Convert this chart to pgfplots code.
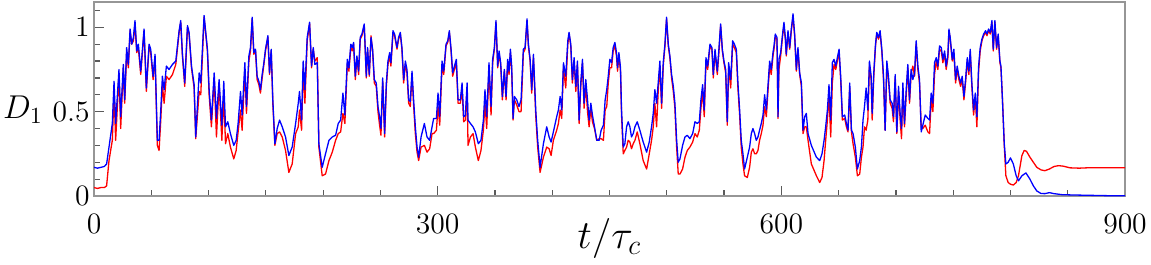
\RequirePackage{fix-cm}
\documentclass[border=0pt]{standalone}
\usepackage{pgfplots}
\pgfplotsset{compat=1.18}
\usepackage{pgfplotstable}
\definecolor{framegray}{RGB}{150,150,150}
\definecolor{tickgray}{RGB}{90,90,90}

\pgfplotstableread{
t D
0 0.17
3 0.165
6 0.17
9 0.175
11 0.19
13.1 0.29
16.0 0.43
17.5 0.68
18.9 0.43
21.8 0.75
23.3 0.47
25.6 0.78
26.8 0.57
28.5 0.88
30.0 0.78
31.5 0.99
32.9 0.90
34.4 0.94
35.8 1.04
37.3 0.86
38.7 0.90
40.8 0.74
43.7 0.99
45.7 0.64
48.1 0.90
49.5 0.87
51.6 0.71
53.3 0.84
55.3 0.33
56.8 0.33
58.3 0.51
59.7 0.71
61.2 0.63
63.2 0.77
65.5 0.75
68.5 0.78
71.4 0.80
74.3 0.98
75.7 1.04
77.2 0.84
79.2 0.67
81.6 1.01
83.0 0.97
85.1 0.77
87.4 0.66
88.8 0.35
91.8 0.73
93.2 0.67
96.1 1.07
99.0 0.87
100.5 0.63
102.5 0.45
104.9 0.73
106.9 0.46
109.2 0.69
111.6 0.42
113.3 0.68
114.8 0.41
116.8 0.44
119.1 0.37
122.0 0.30
124.1 0.33
125.8 0.43
127.9 0.62
129.3 0.48
131.7 0.79
133.1 0.53
135.2 0.83
136.6 0.88
138.1 1.06
139.5 0.85
141.0 0.87
142.4 0.71
143.9 0.68
145.3 0.63
146.8 0.72
148.3 0.79
149.7 0.87
151.8 0.95
153.2 0.73
154.7 0.87
156.1 0.57
157.9 0.31
159.9 0.40
162.0 0.45
164.3 0.41
167.2 0.35
170.1 0.24
173.0 0.29
176.0 0.43
178.3 0.55
179.4 0.62
181.2 0.45
182.6 0.80
184.1 0.63
186.1 0.94
188.2 1.03
189.9 0.77
191.4 0.88
192.8 0.78
194.9 0.79
196.3 0.31
199.2 0.17
202.1 0.25
205.1 0.33
208.0 0.35
210.9 0.36
213.2 0.43
215.3 0.45
217.3 0.61
219.0 0.48
221.1 0.81
222.5 0.76
224.2 0.90
225.5 0.88
226.6 0.91
228.1 0.71
229.5 0.83
231.0 0.74
232.4 0.94
233.9 0.96
235.9 1.02
237.7 0.71
238.8 0.88
240.3 0.72
241.8 0.94
243.2 0.87
244.7 0.69
246.4 0.67
247.9 0.53
249.3 0.47
250.5 0.40
252.0 0.70
253.7 0.37
255.2 0.67
256.6 0.80
258.1 0.85
259.2 0.79
261.0 0.98
262.4 0.96
264.5 0.88
265.9 0.94
267.4 0.97
268.8 0.88
270.3 0.69
271.8 0.80
273.2 0.75
274.7 0.57
276.1 0.56
277.6 0.74
279.0 0.57
280.5 0.41
282.0 0.29
283.4 0.23
285.5 0.35
288.4 0.43
290.7 0.35
293.0 0.33
295.1 0.41
296.5 0.46
298.9 0.46
300.3 0.61
301.8 0.47
303.8 0.80
305.3 0.74
307.3 0.90
308.8 0.92
310.2 0.98
311.7 0.87
313.1 0.73
314.6 0.77
316.3 0.81
317.8 0.57
319.8 0.57
321.3 0.67
322.7 0.47
324.2 0.48
325.7 0.67
326.5 0.45
328.6 0.43
330.9 0.41
332.9 0.38
335.5 0.31
337.8 0.33
339.9 0.45
341.3 0.63
342.8 0.47
344.8 0.79
346.6 0.53
348.0 0.81
349.5 0.88
350.9 1.04
352.4 0.77
353.6 0.86
355.0 0.79
356.5 0.59
358.2 0.75
359.7 0.59
361.1 0.81
362.3 0.74
363.5 0.87
364.6 0.77
365.8 0.46
367.0 0.59
369.0 0.57
371.0 0.53
372.8 0.57
374.8 0.87
376.3 0.88
378.0 1.05
379.2 0.90
380.7 0.81
382.1 0.63
383.6 0.84
385.6 0.51
387.3 0.33
389.4 0.17
392.3 0.31
395.2 0.41
397.3 0.35
399.0 0.32
401.0 0.38
403.9 0.47
405.4 0.51
406.9 0.59
408.3 0.51
409.8 0.79
411.8 0.71
413.6 0.92
414.7 0.97
416.2 0.90
417.6 0.69
419.1 0.82
420.6 0.65
422.0 0.80
423.5 0.45
424.9 0.67
426.4 0.81
427.8 0.55
429.3 0.69
430.8 0.57
432.2 0.45
433.7 0.55
435.1 0.48
436.9 0.41
438.9 0.33
441.0 0.33
442.7 0.39
444.7 0.42
446.2 0.57
447.6 0.63
448.9 0.71
450.3 0.81
451.8 0.79
453.2 0.88
454.7 0.91
456.1 0.85
457.0 0.76
458.2 0.85
459.6 0.76
460.5 0.51
462.0 0.29
463.4 0.31
464.9 0.41
466.3 0.44
467.8 0.41
469.2 0.35
470.7 0.37
472.2 0.41
474.2 0.44
476.5 0.39
479.4 0.32
482.4 0.26
484.7 0.32
486.7 0.41
488.2 0.49
489.6 0.63
491.1 0.55
492.5 0.67
494.0 0.80
495.5 0.55
496.9 0.79
498.4 0.90
499.8 1.06
501.3 0.90
502.7 0.83
504.2 0.72
505.7 0.65
507.1 0.55
508.6 0.33
510.0 0.20
511.5 0.22
513.8 0.30
515.9 0.35
517.9 0.36
520.2 0.34
522.6 0.37
524.6 0.44
526.6 0.43
528.4 0.44
529.8 0.57
531.3 0.66
532.7 0.51
534.2 0.82
535.7 0.77
537.7 0.90
539.4 0.88
540.6 0.72
542.1 0.87
544.1 0.74
545.6 0.88
547.0 1.02
548.5 0.87
549.9 0.80
551.4 0.75
552.8 0.44
554.0 0.79
555.8 0.69
557.5 0.92
559.0 0.90
560.7 0.87
562.1 0.67
563.6 0.51
565.0 0.33
566.5 0.25
567.9 0.16
570.3 0.23
572.3 0.29
573.8 0.37
575.2 0.40
576.7 0.37
578.1 0.33
579.6 0.35
581.0 0.39
582.5 0.43
584.0 0.48
585.4 0.60
586.9 0.51
588.3 0.65
589.8 0.80
591.2 0.75
592.7 0.85
593.6 0.89
594.7 0.96
596.2 0.94
597.1 0.47
597.9 0.81
599.4 0.85
601.4 0.98
602.3 1.03
603.5 0.94
604.3 0.84
605.8 0.98
607.3 0.88
608.7 0.99
610.2 1.08
611.6 0.96
613.1 0.75
614.5 0.88
616.0 0.73
617.5 0.67
618.9 0.39
620.4 0.47
621.8 0.49
623.3 0.37
626.2 0.30
630.6 0.23
633.5 0.21
635.5 0.25
637.3 0.33
638.7 0.41
640.2 0.51
641.6 0.66
643.1 0.45
644.5 0.79
646.0 0.81
647.5 0.77
648.9 0.82
650.4 0.87
651.8 0.71
653.3 0.47
655.3 0.48
656.8 0.43
658.2 0.39
659.7 0.67
661.2 0.39
662.6 0.37
664.6 0.29
666.4 0.16
668.4 0.21
669.9 0.29
671.3 0.45
672.6 0.53
674.0 0.64
675.5 0.51
676.9 0.80
678.4 0.71
679.3 0.49
680.7 0.73
682.2 0.90
683.3 0.97
684.8 0.94
686.2 0.98
687.7 0.87
689.2 0.71
690.6 0.39
692.1 0.80
693.5 0.71
695.0 0.57
696.7 0.55
697.9 0.47
699.4 0.72
700.8 0.38
702.3 0.65
703.7 0.49
704.9 0.40
706.1 0.67
707.5 0.43
709.0 0.63
710.4 0.78
711.9 0.57
713.3 0.75
714.8 0.69
716.3 0.73
717.7 0.92
719.2 0.77
720.6 0.69
722.1 0.38
723.5 0.42
725.6 0.48
727.9 0.46
729.4 0.45
730.8 0.61
732.3 0.55
733.7 0.79
735.2 0.82
736.6 0.77
738.1 0.89
739.6 0.88
741.0 0.81
742.5 0.86
743.9 0.77
745.4 0.84
746.3 0.99
747.4 0.94
749.2 0.81
750.6 0.87
752.1 0.69
753.5 0.77
755.0 0.71
756.5 0.67
757.9 0.71
759.4 0.59
760.8 0.69
762.3 0.82
763.7 0.74
764.9 0.87
766.3 0.67
767.8 0.51
769.3 0.61
770.7 0.47
772.2 0.77
773.6 0.88
775.1 0.93
776.6 0.96
778.3 0.98
779.5 0.96
780.9 0.99
782.4 0.97
783.8 1.04
785.0 0.87
786.4 1.04
787.9 0.88
789.3 0.96
790.8 0.80
791.7 0.77
793.0 0.57
794.6 0.31
796.0 0.19
798.0 0.20
800.0 0.226
802.5 0.19
805.0 0.12
807.0 0.09
810.0 0.12
813.5 0.137
817.0 0.10
820.0 0.06
823.0 0.03
826.6 0.015
830.0 0.014
834.0 0.02
838.0 0.014
845.0 0.008
855.0 0.006
870.0 0.004
885.0 0.002
900.0 0.001
}\blueseries

\pgfplotstableread{
t D
0 0.05
3 0.045
6 0.05
9 0.05
11 0.06
13.1 0.21
16.0 0.33
17.5 0.62
18.9 0.33
21.8 0.72
23.3 0.40
25.6 0.76
26.8 0.55
28.5 0.85
30.0 0.76
31.5 0.98
32.9 0.90
34.4 0.92
35.8 1.02
37.3 0.85
38.7 0.88
40.8 0.72
43.7 0.98
45.7 0.62
48.1 0.89
49.5 0.85
51.6 0.69
53.3 0.82
55.3 0.30
56.8 0.27
58.3 0.45
59.7 0.66
61.2 0.55
63.2 0.71
65.5 0.69
68.5 0.72
71.4 0.78
74.3 0.97
75.7 1.03
77.2 0.83
79.2 0.65
81.6 1.00
83.0 0.96
85.1 0.76
87.4 0.64
88.8 0.34
91.8 0.62
93.2 0.60
96.1 1.06
99.0 0.86
100.5 0.60
102.5 0.41
104.9 0.70
106.9 0.35
109.2 0.66
111.6 0.33
113.3 0.60
114.8 0.31
116.8 0.37
119.1 0.29
122.0 0.22
124.1 0.27
125.8 0.38
127.9 0.51
129.3 0.39
131.7 0.75
133.1 0.49
135.2 0.80
136.6 0.86
138.1 1.05
139.5 0.84
141.0 0.86
142.4 0.69
143.9 0.66
145.3 0.61
146.8 0.70
148.3 0.78
149.7 0.86
151.8 0.94
153.2 0.72
154.7 0.86
156.1 0.55
157.9 0.30
159.9 0.37
162.0 0.38
164.3 0.35
167.2 0.27
170.1 0.14
173.0 0.19
176.0 0.37
178.3 0.41
179.4 0.51
181.2 0.39
182.6 0.76
184.1 0.55
186.1 0.92
188.2 1.02
189.9 0.76
191.4 0.87
192.8 0.80
194.9 0.82
196.3 0.29
199.2 0.12
202.1 0.13
205.1 0.21
208.0 0.26
210.9 0.33
213.2 0.37
215.3 0.38
217.3 0.49
219.0 0.43
221.1 0.78
222.5 0.74
224.2 0.88
225.5 0.86
226.6 0.90
228.1 0.69
229.5 0.82
231.0 0.72
232.4 0.93
233.9 0.95
235.9 1.01
237.7 0.70
238.8 0.87
240.3 0.71
241.8 0.95
243.2 0.86
244.7 0.67
246.4 0.65
247.9 0.50
249.3 0.42
250.5 0.36
252.0 0.68
253.7 0.35
255.2 0.65
256.6 0.78
258.1 0.83
259.2 0.77
261.0 0.97
262.4 0.95
264.5 0.87
265.9 0.93
267.4 0.96
268.8 0.87
270.3 0.67
271.8 0.78
273.2 0.73
274.7 0.55
276.1 0.53
277.6 0.72
279.0 0.54
280.5 0.37
282.0 0.26
283.4 0.21
285.5 0.29
288.4 0.30
290.7 0.26
293.0 0.28
295.1 0.37
296.5 0.37
298.9 0.39
300.3 0.53
301.8 0.42
303.8 0.77
305.3 0.72
307.3 0.89
308.8 0.91
310.2 0.97
311.7 0.86
313.1 0.71
314.6 0.75
316.3 0.79
317.8 0.55
319.8 0.55
321.3 0.64
322.7 0.44
324.2 0.45
325.7 0.64
326.5 0.30
328.6 0.35
330.9 0.37
332.9 0.29
335.5 0.21
337.8 0.27
339.9 0.39
341.3 0.55
342.8 0.40
344.8 0.75
346.6 0.48
348.0 0.79
349.5 0.87
350.9 1.03
352.4 0.76
353.6 0.84
355.0 0.78
356.5 0.57
358.2 0.74
359.7 0.57
361.1 0.79
362.3 0.72
363.5 0.85
364.6 0.75
365.8 0.45
367.0 0.57
369.0 0.54
371.0 0.50
372.8 0.50
374.8 0.85
376.3 0.87
378.0 1.04
379.2 0.89
380.7 0.80
382.1 0.61
383.6 0.82
385.6 0.48
387.3 0.29
389.4 0.14
392.3 0.23
395.2 0.29
397.3 0.28
399.0 0.24
401.0 0.33
403.9 0.39
405.4 0.43
406.9 0.51
408.3 0.46
409.8 0.76
411.8 0.64
413.6 0.90
414.7 0.96
416.2 0.89
417.6 0.67
419.1 0.80
420.6 0.62
422.0 0.78
423.5 0.43
424.9 0.65
426.4 0.79
427.8 0.52
429.3 0.66
430.8 0.50
432.2 0.41
433.7 0.52
435.1 0.44
436.9 0.40
438.9 0.33
441.0 0.34
442.7 0.34
444.7 0.33
446.2 0.51
447.6 0.53
448.9 0.67
450.3 0.76
451.8 0.76
453.2 0.86
454.7 0.89
456.1 0.83
457.0 0.74
458.2 0.83
459.6 0.74
460.5 0.48
462.0 0.25
463.4 0.27
464.9 0.29
466.3 0.33
467.8 0.32
469.2 0.28
470.7 0.31
472.2 0.33
474.2 0.38
476.5 0.31
479.4 0.21
482.4 0.16
484.7 0.25
486.7 0.33
488.2 0.41
489.6 0.55
491.1 0.41
492.5 0.62
494.0 0.77
495.5 0.52
496.9 0.77
498.4 0.89
499.8 1.05
501.3 0.89
502.7 0.82
504.2 0.70
505.7 0.62
507.1 0.52
508.6 0.29
510.0 0.13
511.5 0.13
513.8 0.16
515.9 0.23
517.9 0.27
520.2 0.29
522.6 0.32
524.6 0.37
526.6 0.35
528.4 0.39
529.8 0.52
531.3 0.62
532.7 0.47
534.2 0.80
535.7 0.75
537.7 0.89
539.4 0.87
540.6 0.70
542.1 0.85
544.1 0.72
545.6 0.86
547.0 1.01
548.5 0.86
549.9 0.79
551.4 0.73
552.8 0.42
554.0 0.76
555.8 0.64
557.5 0.90
559.0 0.88
560.7 0.85
562.1 0.64
563.6 0.48
565.0 0.29
566.5 0.19
567.9 0.12
570.3 0.11
572.3 0.17
573.8 0.26
575.2 0.28
576.7 0.25
578.1 0.25
579.6 0.27
581.0 0.33
582.5 0.37
584.0 0.42
585.4 0.53
586.9 0.47
588.3 0.62
589.8 0.77
591.2 0.72
592.7 0.83
593.6 0.87
594.7 0.94
596.2 0.93
597.1 0.46
597.9 0.75
599.4 0.83
601.4 0.97
602.3 1.00
603.5 0.93
604.3 0.83
605.8 0.97
607.3 0.87
608.7 0.98
610.2 1.06
611.6 0.95
613.1 0.74
614.5 0.87
616.0 0.72
617.5 0.65
618.9 0.37
620.4 0.41
621.8 0.41
623.3 0.33
626.2 0.19
630.6 0.12
633.5 0.08
635.5 0.11
637.3 0.21
638.7 0.33
640.2 0.45
641.6 0.60
643.1 0.35
644.5 0.67
646.0 0.78
647.5 0.75
648.9 0.80
650.4 0.85
651.8 0.69
653.3 0.45
655.3 0.46
656.8 0.41
658.2 0.38
659.7 0.64
661.2 0.38
662.6 0.31
664.6 0.23
666.4 0.12
668.4 0.13
669.9 0.23
671.3 0.29
672.6 0.41
674.0 0.39
675.5 0.45
676.9 0.77
678.4 0.69
679.3 0.45
680.7 0.71
682.2 0.89
683.3 0.96
684.8 0.93
686.2 0.97
687.7 0.86
689.2 0.69
690.6 0.39
692.1 0.78
693.5 0.69
695.0 0.55
696.7 0.52
697.9 0.44
699.4 0.70
700.8 0.37
702.3 0.62
703.7 0.45
704.9 0.34
706.1 0.64
707.5 0.41
709.0 0.60
710.4 0.76
711.9 0.55
713.3 0.73
714.8 0.77
716.3 0.71
717.7 0.90
719.2 0.75
720.6 0.67
722.1 0.41
723.5 0.40
725.6 0.42
727.9 0.38
729.4 0.37
730.8 0.57
732.3 0.50
733.7 0.72
735.2 0.80
736.6 0.75
738.1 0.87
739.6 0.86
741.0 0.79
742.5 0.84
743.9 0.75
745.4 0.82
746.3 0.98
747.4 0.93
749.2 0.80
750.6 0.85
752.1 0.67
753.5 0.75
755.0 0.69
756.5 0.65
757.9 0.69
759.4 0.57
760.8 0.67
762.3 0.80
763.7 0.72
764.9 0.85
766.3 0.65
767.8 0.48
769.3 0.58
770.7 0.41
772.2 0.74
773.6 0.86
775.1 0.92
776.6 0.95
778.3 0.97
779.5 0.95
780.9 0.98
782.4 0.96
783.8 1.03
785.0 0.86
786.4 1.03
787.9 0.87
789.3 0.95
790.8 0.79
791.7 0.76
793.0 0.58
794.6 0.30
796.0 0.12
798.0 0.08
800.0 0.07
802.5 0.065
805.0 0.08
807.0 0.12
810.0 0.24
812.0 0.27
814.0 0.265
817.0 0.23
820.0 0.20
823.0 0.17
826.6 0.155
830.0 0.15
834.0 0.16
838.0 0.175
842.0 0.18
846.0 0.177
852.0 0.167
860.0 0.165
870.0 0.168
880.0 0.167
890.0 0.168
900.0 0.168
}\redseries

\begin{document}
\begin{tikzpicture}
\begin{axis}[
  name=a,
  scale only axis,
  width=515.5pt, height=97pt,
  xmin=0, xmax=900, ymin=0, ymax=1.15,
  axis line style={framegray, line width=0.6pt},
  xtick={0,300,600,900},
  minor xtick={50,100,150,200,250,350,400,450,500,550,650,700,750,800,850},
  ytick={0,0.5,1},
  minor ytick={0.1,0.2,0.3,0.4,0.6,0.7,0.8,0.9,1.1},
  xtick pos=lower, ytick pos=left,
  tick align=inside,
  major tick length=5pt, minor tick length=2.8pt,
  every tick/.style={tickgray, line width=0.6pt},
  tick label style={font=\fontsize{14.8}{17}\selectfont},
  xticklabel shift=5.6pt,
  yticklabel shift=-1.4pt,
  xlabel={$t/\tau_c$},
  ylabel={$D_1$},
  every axis x label/.style={at={(axis description cs:0.5,0)}, anchor=base, yshift=-26pt, font=\fontsize{20}{24}\selectfont},
  every axis y label/.style={at={(axis description cs:0,0.40)}, anchor=base east, inner sep=0pt, xshift=-25.5pt, font=\fontsize{16.5}{19}\selectfont},
]
\addplot[red, line width=0.65pt, line join=round] table[x=t, y=D] {\redseries};
\addplot[blue, line width=0.65pt, line join=round] table[x=t, y=D] {\blueseries};
\end{axis}
\pgfresetboundingbox
\path[use as bounding box] ([shift={(-47pt,-34pt)}]a.south west) rectangle ([shift={(13pt,1pt)}]a.north east);
\end{tikzpicture}
\end{document}
